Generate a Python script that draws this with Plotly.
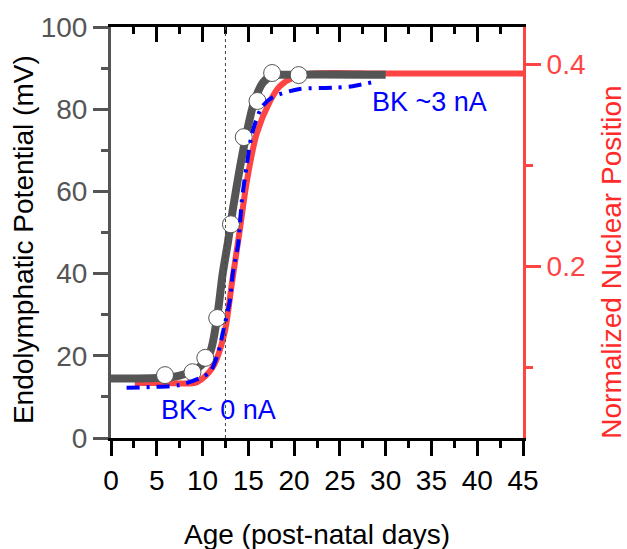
import plotly.graph_objects as go

# gray fit curve (left axis, mV)
ep_fit_x = [0, 5, 7.5, 9.5, 10.8, 11.6, 12.2, 12.8, 13.3, 14.1, 14.8, 15.6, 16.6, 17.6, 19, 30]
ep_fit_y = [14.5, 14.6, 15.2, 17, 20.7, 29.5, 40, 48, 55.5, 66, 74, 81.5, 86.5, 88.2, 88.4, 88.4]

# measured points
ep_x = [5.9, 8.9, 10.3, 11.6, 13.1, 14.5, 16.0, 17.6, 20.5]
ep_y = [15.3, 16, 19.5, 29.2, 52, 73.2, 82, 88.8, 88.3]

# blue BK current curve (plotted on left scale)
bk_x = [1.7, 4.3, 7.5, 9.7, 10.8, 11.7, 12.2, 13.0, 13.3, 13.9, 14.3, 14.8, 15.4, 16.5, 17.7, 20.6, 24.2, 26.4, 28.6]
bk_y = [12.2, 12.4, 12.9, 14.6, 16, 20.7, 25.5, 33.6, 40, 47.4, 58, 66, 74, 80.6, 83, 84.9, 85.2, 85.6, 86.6]

# red nuclear position (right axis)
nuc_x = [2.6, 6, 9.4, 11.1, 12.4, 13.2, 14.1, 14.8, 15.9, 17.4, 18.4, 19.9, 22, 30, 45]
nuc_y = [0.0845, 0.0845, 0.0853, 0.100, 0.134, 0.183, 0.238, 0.282, 0.331, 0.364, 0.378, 0.387, 0.391, 0.391, 0.391]

FONT = "Liberation Sans, Arial, sans-serif"
RED = "#ff4444"
GRAY = "#555555"

fig = go.Figure()

# red on base y axis (right side), so the rest draws on top of it
fig.add_trace(go.Scatter(x=nuc_x, y=nuc_y, mode="lines", line=dict(color=RED, width=6, shape="spline", smoothing=0.8),
                         xaxis="x", yaxis="y"))
fig.add_trace(go.Scatter(x=ep_fit_x, y=ep_fit_y, mode="lines", line=dict(color=GRAY, width=8, shape="spline", smoothing=0.8),
                         xaxis="x", yaxis="y2"))
fig.add_trace(go.Scatter(x=ep_x, y=ep_y, mode="markers",
                         marker=dict(size=17, color="white", line=dict(color=GRAY, width=1)),
                         xaxis="x", yaxis="y2"))
fig.add_trace(go.Scatter(x=bk_x, y=bk_y, mode="lines",
                         line=dict(color="#0000ff", width=4, shape="spline", smoothing=0.8, dash="13px,7px,3px,7px"),
                         xaxis="x", yaxis="y2"))
# dummy trace to hold the top axis
fig.add_trace(go.Scatter(x=[0, 45], y=[0, 0], mode="lines", line=dict(width=0), opacity=0,
                         xaxis="x2", yaxis="y2", hoverinfo="skip"))

fig.add_shape(type="line", x0=12.5, x1=12.5, y0=0, y1=100, xref="x", yref="y2",
              line=dict(color="#444444", width=1, dash="dot"))

fig.add_annotation(x=34.8, y=81.7, xref="x", yref="y2", text="BK ~3 nA", showarrow=False,
                   font=dict(family=FONT, size=27, color="#0000ff"))
fig.add_annotation(x=11.7, y=6.8, xref="x", yref="y2", text="BK~ 0 nA", showarrow=False,
                   font=dict(family=FONT, size=27, color="#0000ff"))

# axis titles placed by hand
fig.add_annotation(x=0.5, y=-0.236, xref="paper", yref="paper", text="Age (post-natal days)",
                   xanchor="center", yanchor="middle",
                   showarrow=False, font=dict(family=FONT, size=28, color="black"))
fig.add_annotation(x=-0.2136, y=0.484, xref="paper", yref="paper", text="Endolymphatic Potential (mV)",
                   xanchor="center", yanchor="middle",
                   textangle=-90, showarrow=False, font=dict(family=FONT, size=28, color="black"))
fig.add_annotation(x=1.215, y=0.428, xref="paper", yref="paper", text="Normalized Nuclear Position",
                   xanchor="center", yanchor="middle",
                   textangle=-90, showarrow=False, font=dict(family=FONT, size=28, color="#ff2a2a"))

fig.update_layout(
    width=627, height=549,
    margin=dict(l=111, r=104, t=27, b=111),
    paper_bgcolor="white", plot_bgcolor="white",
    showlegend=False,
    font=dict(family=FONT, size=28, color="black"),
    xaxis=dict(range=[0, 45], tickvals=[0, 5, 10, 15, 20, 25, 30, 35, 40, 45], automargin=False,
               showgrid=False, zeroline=False, showline=True, linecolor="black", linewidth=3,
               ticks="outside", ticklen=15, tickwidth=3, tickcolor="black",
               minor=dict(dtick=2.5, ticks="outside", ticklen=7, tickwidth=3, tickcolor="black"),
               tickfont=dict(size=28, color="black")),
    xaxis2=dict(range=[0, 45], overlaying="x", side="top", anchor="y", automargin=False,
                tickvals=[0, 5, 10, 15, 20, 25, 30, 35, 40, 45], showticklabels=False,
                showgrid=False, zeroline=False, showline=True, linecolor="black", linewidth=3,
                ticks="inside", ticklen=15, tickwidth=3, tickcolor="black",
                minor=dict(dtick=2.5, ticks="inside", ticklen=7, tickwidth=3, tickcolor="black")),
    yaxis=dict(range=[0.03, 0.437], side="right", tickvals=[0.2, 0.4], automargin=False,
               showgrid=False, zeroline=False, showline=True, linecolor=RED, linewidth=3,
               ticks="outside", ticklen=15, tickwidth=3, tickcolor=RED,
               minor=dict(tickvals=[0.1, 0.3], ticks="outside", ticklen=7, tickwidth=3, tickcolor=RED),
               tickfont=dict(size=28, color=RED)),
    yaxis2=dict(range=[0, 100], overlaying="y", side="left", anchor="x", dtick=20, automargin=False,
                showgrid=False, zeroline=False, showline=True, linecolor=GRAY, linewidth=3,
                ticks="outside", ticklen=15, tickwidth=3, tickcolor=GRAY,
                minor=dict(dtick=10, ticks="outside", ticklen=7, tickwidth=3, tickcolor=GRAY),
                tickfont=dict(size=28, color=GRAY)),
)

# drop the default page margin so the figure sits at the window's corner
fig.write_html("out.html", config={"displayModeBar": False},
               post_script="document.body.style.margin='0';")
